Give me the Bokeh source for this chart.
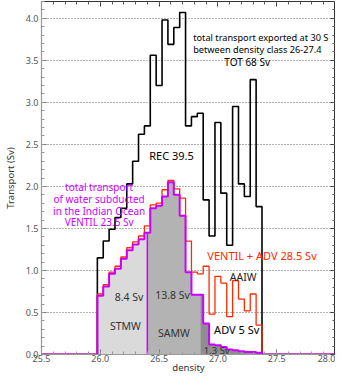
import numpy as np
from bokeh.plotting import figure
from bokeh.models import Range1d, LinearAxis, SingleIntervalTicker, Label, NumeralTickFormatter
from bokeh.embed import file_html
from bokeh.resources import INLINE

# ---- data ----
density = [26.00, 26.05, 26.10, 26.15, 26.20, 26.25, 26.30, 26.35, 26.40, 26.45,
           26.50, 26.55, 26.60, 26.65, 26.70, 26.75, 26.80, 26.85, 26.90, 26.95,
           27.00, 27.05, 27.10, 27.15, 27.20, 27.25, 27.30, 27.35]
bin_width = 0.05
total_export = [1.15, 1.35, 1.49, 1.63, 1.74, 2.03, 2.30, 2.62, 2.72, 3.56,
                3.20, 3.98, 3.69, 3.89, 4.07, 2.72, 2.83, 2.87, 1.84, 1.41,
                2.76, 1.92, 1.30, 2.95, 2.03, 1.88, 3.27, 1.76]
ventil = [0.70, 0.81, 0.96, 1.02, 1.14, 1.24, 1.31, 1.37, 1.45, 1.74,
          1.77, 1.88, 2.05, 1.90, 1.65, 0.98, 0.71, 0.71, 0.37, 0.12,
          0.11, 0.09, 0.06, 0.05, 0.04, 0.03, 0.03, 0.02]
ventil_adv = [0.72, 0.83, 0.98, 1.05, 1.16, 1.27, 1.34, 1.41, 1.53, 1.78,
              1.80, 1.96, 2.07, 1.97, 1.86, 1.35, 0.98, 0.96, 1.05, 0.48,
              0.93, 0.85, 0.45, 0.88, 0.66, 0.52, 0.72, 0.35]
mass_names = ["STMW", "SAMW", "ADV"]
mass_bounds = [26.40, 26.85]
mass_fill = ["#dadada", "#b3b3b3", "#8e8e8e"]
x_range = (25.5, 28.0)
y_range = (0.0, 4.2)

FONT = "Noto Sans"
PURPLE = "#cc00ff"
RED = "#ff2a00"

centers = np.array(density)
edges = np.concatenate([centers - bin_width / 2, [centers[-1] + bin_width / 2]])


def step_path(vals):
    xs = [x_range[0], edges[0]]
    ys = [0.0, 0.0]
    for i, v in enumerate(vals):
        xs += [edges[i], edges[i + 1]]
        ys += [v, v]
    xs += [edges[-1], x_range[1]]
    ys += [0.0, 0.0]
    return xs, ys


def value_at(vals, x):
    i = int(np.floor((x - edges[0]) / bin_width + 1e-9))
    if 0 <= i < len(vals):
        return vals[i]
    return 0.0


def region_patch(vals, a, b):
    xs = [a]
    ys = [0.0]
    cur = value_at(vals, a)
    xs.append(a)
    ys.append(cur)
    for e in edges:
        if a + 1e-9 < e < b - 1e-9:
            xs.append(e); ys.append(cur)
            cur = value_at(vals, e + 1e-6)
            xs.append(e); ys.append(cur)
    xs += [b, b]
    ys += [cur, 0.0]
    return xs, ys


p = figure(width=335, height=376, x_range=Range1d(*x_range), y_range=Range1d(*y_range),
           output_backend="svg", toolbar_location=None,
           min_border_left=0, min_border_right=0, min_border_top=1, min_border_bottom=0,
           x_axis_label="density", y_axis_label="Transport (Sv)")
p.background_fill_color = "white"
p.border_fill_color = "white"
p.outline_line_color = "#333333"
p.outline_line_width = 1

tick = dict(major_tick_in=5, major_tick_out=0, minor_tick_in=3, minor_tick_out=0)
for ax in (p.xaxis[0], p.yaxis[0]):
    ax.ticker = SingleIntervalTicker(interval=0.5, num_minor_ticks=5)
    ax.formatter = NumeralTickFormatter(format="0.0")
    for k, v in tick.items():
        setattr(ax, k, v)
    ax.major_label_text_font = FONT
    ax.major_label_text_font_size = "9px"
    ax.major_label_text_color = "#555555"
    ax.major_label_text_line_height = 0.9
    ax.axis_label_text_font = FONT
    ax.axis_label_text_font_size = "9.5px"
    ax.axis_label_text_font_style = "normal"
    ax.axis_label_text_color = "#333333"
    ax.axis_label_text_line_height = 0.9
    ax.axis_line_color = "#999999"
    ax.axis_line_width = 1.2
    ax.major_tick_line_color = "#777777"
    ax.minor_tick_line_color = "#999999"
p.xaxis[0].major_label_standoff = 0
p.xaxis[0].axis_label_standoff = -4
p.yaxis[0].major_label_standoff = 3
p.yaxis[0].axis_label_standoff = 6

for loc in ("above", "right"):
    ax = LinearAxis(ticker=SingleIntervalTicker(interval=0.5, num_minor_ticks=5),
                    major_label_text_font_size="0px", major_label_text_alpha=0,
                    major_label_standoff=0, axis_line_color="#333333",
                    major_tick_line_color="#333333", minor_tick_line_color="#555555", **tick)
    p.add_layout(ax, loc)

p.xgrid.visible = False
p.ygrid.grid_line_color = "#666666"
p.ygrid.grid_line_dash = "1 2"
p.ygrid.grid_line_width = 1

# shaded water-mass regions under the VENTIL curve
bounds = [edges[0]] + mass_bounds + [edges[-1]]
for i in range(len(mass_names)):
    xs, ys = region_patch(ventil, bounds[i], bounds[i + 1])
    p.patch(xs, ys, fill_color=mass_fill[i], line_color=None)

# lines
xs, ys = step_path(total_export)
p.line(xs, ys, line_color="black", line_width=1.6)
xs, ys = step_path(ventil_adv)
p.line(xs, ys, line_color=RED, line_width=1.3)
xs, ys = step_path(ventil)
p.line(xs, ys, line_color=PURPLE, line_width=2)
b0 = mass_bounds[0]
p.line([b0, b0], [0, value_at(ventil, b0)], line_color=PURPLE, line_width=1.5)


def add_text(x, y, t, size, color, align="left"):
    p.add_layout(Label(x=x, y=y, text=t, text_font=FONT, text_font_size=size,
                       text_color=color, text_align=align, text_baseline="middle"))


add_text(26.79, 3.77, "total transport exported at 30 S", "9.2px", "black")
add_text(26.79, 3.63, "between density class 26-27.4", "9.2px", "black")
add_text(27.055, 3.48, "TOT 68 Sv", "10px", "black")
add_text(26.606, 2.37, "REC 39.5", "11px", "black", "center")
add_text(25.99, 1.99, "total transport", "10px", PURPLE, "center")
add_text(25.99, 1.85, "of water subducted", "10px", PURPLE, "center")
add_text(25.99, 1.71, "in the Indian Ocean", "10px", PURPLE, "center")
add_text(25.99, 1.58, "VENTIL 23.5 Sv", "10px", PURPLE, "center")
add_text(26.91, 1.18, "VENTIL + ADV  28.5 Sv", "11px", RED)
add_text(27.215, 0.92, "AAIW", "10.5px", "#222222", "center")
add_text(27.16, 0.30, "ADV 5 Sv", "11px", "black", "center")
add_text(26.245, 0.69, "8.4 Sv", "10.5px", "#333333", "center")
add_text(26.614, 0.71, "13.8 Sv", "10.5px", "#333333", "center")
add_text(26.213, 0.34, "STMW", "10.5px", "#333333", "center")
add_text(26.626, 0.257, "SAMW", "10.5px", "#333333", "center")
add_text(26.99, 0.045, "1.3 Sv", "9.5px", "#333333", "center")

open("out.html", "w").write(file_html(p, INLINE))
